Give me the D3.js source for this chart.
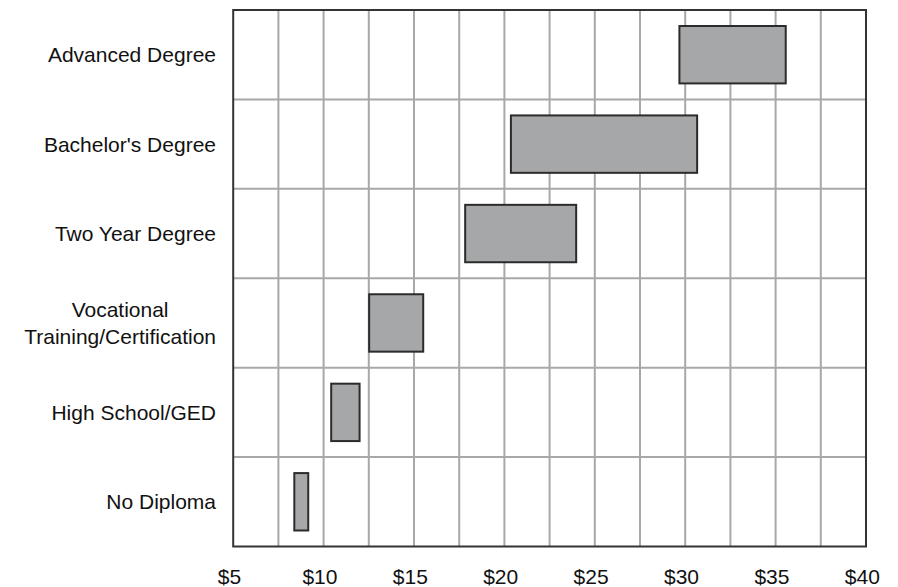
<!DOCTYPE html>
<html>
<head>
<meta charset="utf-8">
<script src="https://cdn.jsdelivr.net/npm/d3@7"></script>
<style>
  html, body { margin: 0; padding: 0; background: #ffffff; }
  svg { display: block; }
  text { font-family: "Liberation Sans", Arial, sans-serif; fill: #111; }
</style>
</head>
<body>
<svg id="chart" width="898" height="587"></svg>
<script>
// Categories, top to bottom
const categories = ["Advanced Degree", "Bachelor's Degree", "Two Year Degree",
                    "Vocational Training/Certification", "High School/GED", "No Diploma"];
// Label lines per category
const categoryLines = [["Advanced Degree"], ["Bachelor's Degree"], ["Two Year Degree"],
                       ["Vocational", "Training/Certification"], ["High School/GED"], ["No Diploma"]];
// Hourly wage range (low / high), in dollars
const lowValues  = [29.68, 20.36, 17.83, 12.52, 10.42, 8.38];
const highValues = [35.56, 30.66, 23.97, 15.51, 11.99, 9.15];
// Axis
const tickValues = [5, 10, 15, 20, 25, 30, 35, 40];
const tickLabels = ["$5", "$10", "$15", "$20", "$25", "$30", "$35", "$40"];
const gridValues = [7.5, 10, 12.5, 15, 17.5, 20, 22.5, 25, 27.5, 30, 32.5, 35, 37.5];

const data = categories.map((c, i) => ({ cat: c, lines: categoryLines[i], lo: lowValues[i], hi: highValues[i] }));

const svg = d3.select("#chart");
const plotLeft = 233.2, plotRight = 866, plotTop = 10, plotBottom = 546.5;

const x = d3.scaleLinear().domain([5, 40]).range([plotLeft, plotRight]);
const y = d3.scaleBand().domain(categories).range([plotTop, plotBottom]).paddingInner(0.358).paddingOuter(0.179);
const step = y.step();

// grid
const grid = svg.append("g");
grid.selectAll("line.v").data(gridValues).join("line")
  .attr("class", "v")
  .attr("x1", d => x(d)).attr("x2", d => x(d))
  .attr("y1", plotTop).attr("y2", plotBottom)
  .attr("stroke", "#a8a8a8").attr("stroke-width", 2);
grid.selectAll("line.h").data(categories.slice(1)).join("line")
  .attr("class", "h")
  .attr("x1", plotLeft).attr("x2", plotRight)
  .attr("y1", d => y(d) - step * y.paddingInner() / 2)
  .attr("y2", d => y(d) - step * y.paddingInner() / 2)
  .attr("stroke", "#a8a8a8").attr("stroke-width", 2);

// border
svg.append("rect")
  .attr("x", plotLeft).attr("y", plotTop)
  .attr("width", plotRight - plotLeft).attr("height", plotBottom - plotTop)
  .attr("fill", "none").attr("stroke", "#333").attr("stroke-width", 2);

// boxes
svg.append("g").selectAll("rect").data(data).join("rect")
  .attr("x", d => x(d.lo))
  .attr("width", d => x(d.hi) - x(d.lo))
  .attr("y", d => y(d.cat))
  .attr("height", y.bandwidth())
  .attr("fill", "#a6a7a9")
  .attr("stroke", "#2b2b2b")
  .attr("stroke-width", 2);

// x axis labels
const xAxis = d3.axisBottom(x).tickValues(tickValues)
  .tickFormat((d, i) => tickLabels[i]).tickSize(0).tickPadding(0);
const ax = svg.append("g").attr("transform", `translate(-4.2,${plotBottom})`).call(xAxis);
ax.select(".domain").remove();
ax.selectAll("text")
  .attr("y", 37.5).attr("dy", null)
  .style("font-family", '"Liberation Sans", Arial, sans-serif')
  .style("font-size", "21px").attr("fill", "#111");

// category labels
const labelRight = 216;
const lineH = 26.6;
const lg = svg.append("g");
data.forEach(d => {
  const cy = y(d.cat) + y.bandwidth() / 2;
  const n = d.lines.length;
  const t = lg.append("text")
    .style("font-size", "21px")
    .attr("text-anchor", n > 1 ? "middle" : "end");
  d.lines.forEach((ln, j) => {
    t.append("tspan").attr("x", labelRight)
      .attr("y", cy + (j - (n - 1) / 2) * lineH + 7.5)
      .text(ln);
  });
  if (n > 1) {
    let maxW = 0;
    t.selectAll("tspan").each(function () { maxW = Math.max(maxW, this.getComputedTextLength()); });
    t.selectAll("tspan").attr("x", labelRight - maxW / 2);
  }
});
</script>
</body>
</html>
